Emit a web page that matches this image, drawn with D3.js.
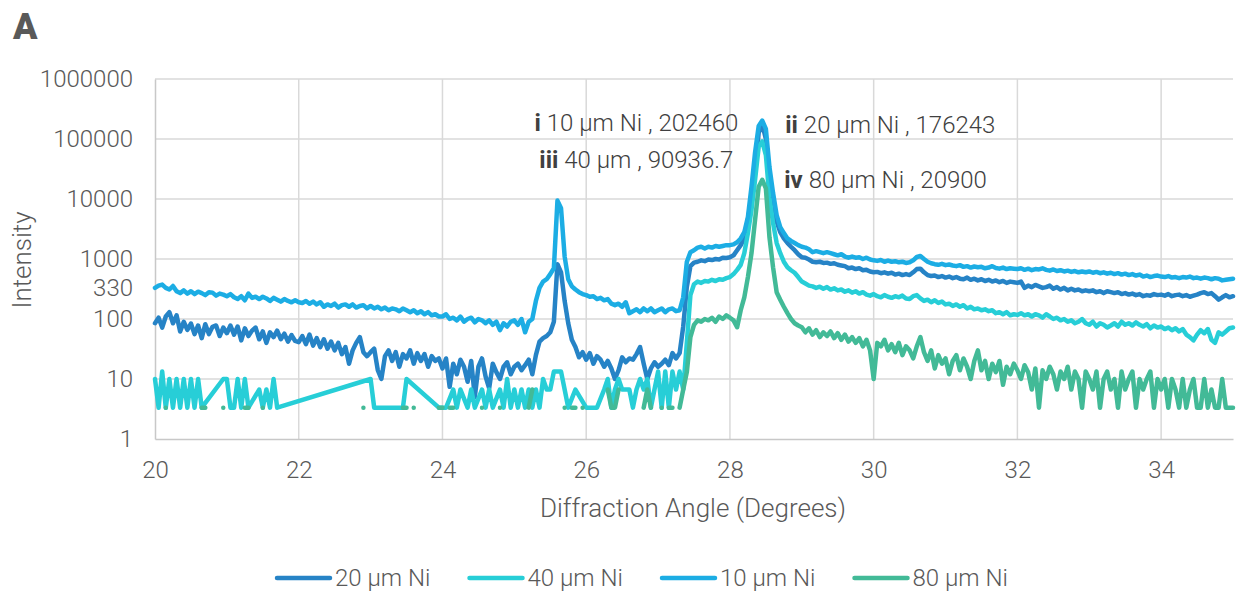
<!DOCTYPE html>
<html><head><meta charset="utf-8">
<script src="https://cdn.jsdelivr.net/npm/d3@7/dist/d3.min.js"></script>
<style>
body{margin:0;background:#fff;}
svg{display:block;font-family:Roboto,"Noto Sans",sans-serif;}
</style></head><body>
<svg id="chart" width="1241" height="593"></svg>
<script>
// ---- data (diffraction angle grid: 20° .. 35° every 0.05°) ----
const angleStart = 20, angleStep = 0.05;

const s20 = [ // 20 µm Ni
85,105,72,110,130,85,115,62,90,66,84,56,78,48,82,56,74,78,52,72,
58,78,55,75,44,70,52,64,72,46,62,40,60,50,64,46,57,42,54,43,
41,52,38,55,36,48,34,46,32,42,30,40,26,34,18,30,40,50,28,24,
28,32,14,10,24,30,20,28,16,26,22,30,18,27,20,26,16,24,20,22,
15,22,7.4,18,12,21,16,9,20,5,16,22,11,7,18,13,10,16,19,12,
16,18,14,17,21,12,25,42,48,52,60,90,820,600,200,85,45,34,23,28,
21,27,18,24,21,16,20,15,10,14,23,19,22,21,26,34,18,10,15,19,
16,18,21,17,27,22,27,75,340,760,870,900,950,920,980,960,1000,980,1050,1040,
1070,1150,1400,1700,2200,4500,10700,28000,127000,176243,100000,23000,8500,4200,2800,2200,1850,1600,1400,1200,
1070,1050,980,900,880,900,860,870,830,850,800,780,760,700,720,680,700,650,660,620,
600,610,580,600,570,590,550,570,540,560,540,600,680,690,600,540,520,530,500,520,
490,510,480,500,470,460,490,450,470,440,460,430,450,420,440,410,430,400,420,410,
400,420,330,360,340,370,350,330,340,360,320,340,310,330,300,320,300,310,290,300,
290,300,280,290,270,290,280,270,280,260,270,255,265,250,260,240,250,245,260,250,
255,245,260,240,250,255,240,250,235,245,255,270,280,260,270,240,210,230,250,230,
240];

const s40 = [ // 40 µm Ni (0 = no counts)
10,3.33,13.3,3.33,10,3.33,10,3.33,10,3.33,10,3.33,10,3.33,0,0,0,0,0,10,
10,3.33,3.33,10,3.33,10,3.33,0,0,6.67,3.33,6.67,3.33,10,3.33,0,0,0,0,0,
0,0,0,0,0,0,0,0,0,0,0,0,0,0,0,0,0,0,0,0,
10,3.33,3.33,3.33,3.33,3.33,3.33,3.33,3.33,3.33,10,0,0,0,0,0,0,0,0,3.33,
0,3.33,0,6.67,3.33,6.67,0,3.33,6.67,3.33,0,6.67,3.33,6.67,3.33,0,6.67,3.33,10,3.33,
6.67,3.33,6.67,3.33,6.67,3.33,6.67,3.33,10,6.67,6.67,13.3,13.3,13.3,6.67,3.33,0,6.67,0,0,
3.33,0,0,3.33,0,6.67,10,3.33,6.67,10,6.67,6.67,6.67,3.33,6.67,10,6.67,10,3.33,6.67,
13.3,3.33,13.3,3.33,13.3,6.67,13.3,6.67,40,250,380,420,400,430,420,450,430,460,450,480,
500,560,660,800,1250,2700,6600,21000,74000,90936.7,54000,10700,4000,1850,1250,900,730,650,590,500,
420,390,360,350,330,345,320,340,310,325,300,310,285,300,275,290,265,280,255,245,
260,240,230,250,235,225,240,230,245,220,215,240,250,220,200,210,190,205,185,195,
175,180,165,175,160,170,150,160,145,150,140,145,135,140,125,130,120,130,115,120,
117,125,115,120,110,120,115,105,120,110,100,105,95,100,90,95,85,90,100,85,
80,90,75,85,80,72,78,85,75,90,80,85,78,88,80,75,82,70,78,72,
75,68,72,65,70,62,68,55,50,44,55,65,58,68,45,40,60,55,62,70,
72];

const s10 = [ // 10 µm Ni
330,360,375,330,310,355,290,270,300,265,290,260,285,270,250,280,275,245,265,255,
240,260,230,215,240,205,265,225,235,215,235,220,200,225,210,195,215,200,190,205,
190,185,200,180,195,175,190,160,175,165,180,155,170,175,160,175,155,165,170,150,
165,150,160,145,155,140,150,145,135,150,140,130,140,125,135,120,130,115,120,110,
110,120,100,105,95,110,90,100,105,88,100,95,85,95,80,90,65,85,75,90,
95,80,100,60,90,100,200,330,420,460,560,700,9400,7000,1100,460,350,310,280,260,
250,235,240,215,225,205,215,180,170,180,160,190,125,135,145,130,150,135,150,130,
140,150,130,145,150,135,140,230,890,1300,1400,1550,1600,1500,1600,1550,1650,1600,1650,1700,
1700,1750,1900,2200,2800,5000,16000,60000,165000,202460,147000,34000,12600,5400,3400,2700,2200,2000,1850,1700,
1600,1550,1450,1300,1350,1300,1250,1300,1250,1200,1150,1200,1100,1050,1100,1050,1070,1000,1050,980,
950,930,960,900,940,900,920,880,900,860,880,950,1080,1120,1000,900,850,820,800,830,
790,810,780,760,790,740,760,720,750,730,740,700,720,760,710,690,720,680,700,690,
680,700,660,690,650,680,670,700,660,640,670,630,650,620,640,610,630,600,620,600,
620,590,610,580,600,570,590,560,580,550,570,540,560,530,550,510,530,500,520,530,
510,500,520,490,500,480,500,490,510,480,490,470,490,480,460,480,470,440,450,460,
470];

const s80 = [ // 80 µm Ni (0 = no counts)
0,0,0,3.33,0,0,0,0,0,0,0,0,0,3.33,3.33,0,0,0,0,3.33,
0,0,0,0,0,3.33,3.33,0,0,0,3.33,0,0,0,0,0,0,0,0,0,
0,0,0,0,0,0,0,0,0,0,0,0,0,0,0,0,0,0,3.33,0,
0,0,0,0,0,0,0,0,0,3.33,3.33,0,3.33,0,0,0,0,0,0,3.33,
3.33,0,3.33,3.33,0,0,0,0,0,0,0,3.33,0,0,0,0,3.33,0,0,0,
0,0,0,0,3.33,6.67,0,0,0,0,0,0,0,0,3.33,0,3.33,3.33,0,3.33,
0,0,0,0,0,0,6.67,3.33,3.33,6.67,0,0,0,0,0,0,3.33,6.67,3.33,0,
0,3.33,0,3.33,3.33,0,3.33,6.67,13,50,80,95,90,100,95,105,90,110,100,115,
105,95,73,140,230,500,1250,4500,16000,20900,15000,2300,730,280,210,160,125,100,85,78,
73,60,70,55,65,50,60,52,62,48,58,45,55,42,50,40,48,35,45,30,
10,40,35,45,30,38,28,40,25,35,30,22,35,50,28,20,30,15,25,18,
22,12,20,25,14,22,16,10,20,30,14,20,10,18,13,20,8,16,12,18,
14,10,17,13,6.67,15,3.33,14,10,16,12,6.67,13.3,10,16,6.67,13.3,10,3.33,13.3,
10,6.67,13.3,3.33,10,13.3,6.67,10,3.33,13.3,6.67,10,13.3,3.33,10,6.67,10,13.3,3.33,10,
6.67,10,3.33,10,6.67,3.33,10,3.33,6.67,10,3.33,3.33,10,3.33,6.67,3.33,3.33,10,3.33,3.33,
3.33];

const seriesNames = ["20 µm Ni","40 µm Ni","10 µm Ni","80 µm Ni"];
const seriesColors = ["#2683C6","#27CED7","#1CADE4","#42BA97"];
const xTicks = [20,22,24,26,28,30,32,34];
const yTicks = [1,10,100,330,1000,10000,100000,1000000];
const yGridValues = [10,100,1000,10000,100000,1000000];
const annotationTags = ["i","ii","iii","iv"];
const annotationTexts = [" 10 µm Ni , 202460"," 20 µm Ni , 176243"," 40 µm , 90936.7"," 80 µm Ni , 20900"];
const peakAngle = 28.45;

// ---- drawing ----
const L = 155, R = 1233, T = 79, B = 439;
const svg = d3.select("#chart");
const x = d3.scaleLinear().domain([20,35]).range([L,R]);
const y = d3.scaleLog().domain([1,1e6]).range([B,T]);
const textColor = "#595959";
const lineWidth = 4.5;

// grid
svg.append("g").selectAll("line").data(yGridValues).join("line")
  .attr("x1",L).attr("x2",R).attr("y1",d=>y(d)).attr("y2",d=>y(d))
  .attr("stroke","#d9d9d9").attr("stroke-width",1.5);
svg.append("g").selectAll("line").data(xTicks.filter(v=>v>20)).join("line")
  .attr("x1",d=>x(d)).attr("x2",d=>x(d)).attr("y1",T).attr("y2",B)
  .attr("stroke","#d9d9d9").attr("stroke-width",1.5);

// axes
const xAxis = svg.append("g").attr("transform",`translate(0,${B})`)
  .call(d3.axisBottom(x).tickValues(xTicks).tickSize(0).tickSizeOuter(0).tickPadding(22).tickFormat(d3.format("d")));
const yAxis = svg.append("g").attr("transform",`translate(${L},0)`)
  .call(d3.axisLeft(y).tickValues(yTicks).tickSize(0).tickSizeOuter(0).tickPadding(22).tickFormat(d3.format("d")));
[xAxis,yAxis].forEach(g=>{
  g.select(".domain").attr("stroke","#c8c8c8").attr("stroke-width",1.5);
  g.selectAll("text").attr("fill",textColor).style("font-size","24px").style("font-weight",300).style("font-family","Roboto, 'Noto Sans', sans-serif");
});

// series
const valuesList = [s20,s40,s10,s80];
const connectGaps = [true,true,true,false];
const line = d3.line().x(d=>x(d.a)).y(d=>y(d.v)).defined(d=>d.v>0);
valuesList.forEach((vals,k)=>{
  let pts = vals.map((v,i)=>({a:angleStart+i*angleStep, v:v}));
  if (connectGaps[k]) pts = pts.filter(p=>p.v>0);
  svg.append("path").datum(pts)
    .attr("d",line)
    .attr("fill","none").attr("stroke",seriesColors[k])
    .attr("stroke-width",lineWidth).attr("stroke-linejoin","round").attr("stroke-linecap","round");
});

// annotations
const px = x(peakAngle);
const annDx = [-24, 23, -29, 22];
const annY = [130.5, 132.5, 168, 187.5];
const annAnchor = ["end","start","end","start"];
annotationTags.forEach((tag,i)=>{
  const t = svg.append("text").attr("x",px+annDx[i]).attr("y",annY[i])
    .attr("text-anchor",annAnchor[i]).attr("fill","#404040")
    .style("font-size","24px").style("font-weight",300);
  t.append("tspan").style("font-weight",700).text(tag);
  t.append("tspan").text(annotationTexts[i]);
});

// axis titles
svg.append("text").attr("x",(L+R)/2 - 1).attr("y",517).attr("text-anchor","middle")
  .attr("fill",textColor).style("font-size","26px").style("font-weight",300)
  .text("Diffraction Angle (Degrees)");
svg.append("text").attr("transform","translate(31,260) rotate(-90)").attr("text-anchor","middle")
  .attr("fill",textColor).style("font-size","26px").style("font-weight",300)
  .text("Intensity");

// panel letter
svg.append("text").attr("x",13).attr("y",39).attr("fill",textColor)
  .style("font-size","36px").style("font-weight",900).text("A");

// legend
const legend = svg.append("g");
seriesNames.forEach((name,i)=>{
  const lx = 277 + i*192.5;
  legend.append("line").attr("x1",lx).attr("x2",lx+53).attr("y1",578).attr("y2",578)
    .attr("stroke",seriesColors[i]).attr("stroke-width",lineWidth).attr("stroke-linecap","round");
  legend.append("text").attr("x",lx+58).attr("y",578).attr("dy","0.35em")
    .attr("fill",textColor).style("font-size","24px").style("font-weight",300).text(name);
});
</script>
</body></html>
